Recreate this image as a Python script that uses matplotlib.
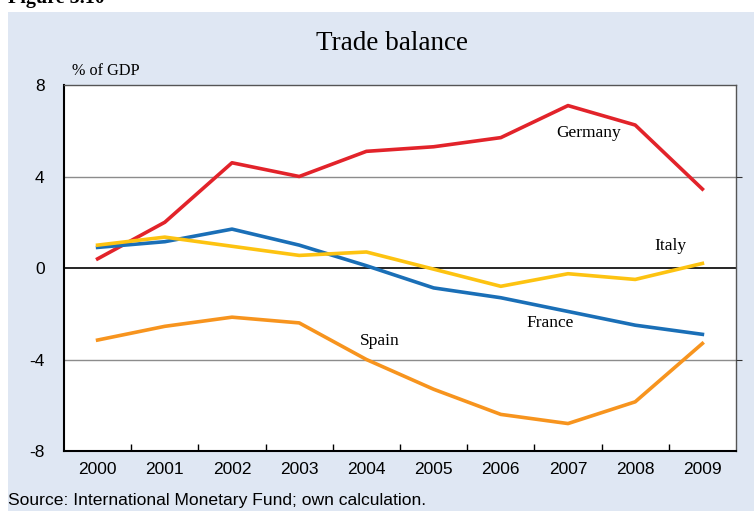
import matplotlib
matplotlib.use("Agg")
import matplotlib.pyplot as plt
from matplotlib.patches import Rectangle
import numpy as np

years = ["2000", "2001", "2002", "2003", "2004", "2005", "2006", "2007", "2008", "2009"]
germany = [0.4, 2.0, 4.6, 4.0, 5.1, 5.3, 5.7, 7.1, 6.25, 3.45]
france = [0.9, 1.15, 1.7, 1.0, 0.1, -0.87, -1.3, -1.9, -2.5, -2.9]
italy = [1.0, 1.35, 0.95, 0.55, 0.7, -0.05, -0.8, -0.25, -0.5, 0.2]
spain = [-3.15, -2.55, -2.15, -2.4, -4.0, -5.3, -6.4, -6.8, -5.85, -3.3]
yticks = [-8, -4, 0, 4, 8]

W, H = 754, 511
fig = plt.figure(figsize=(W / 100, H / 100), dpi=100)
fig.patch.set_facecolor("white")
fig.add_artist(Rectangle((8 / W, 0), 1 - 8 / W, (H - 12) / H, transform=fig.transFigure,
                         facecolor="#dfe7f3", edgecolor="none", zorder=0))
fig.text(8 / W, 1 - 3 / H, "Figure 5.10", family="Liberation Serif", weight="bold",
         fontsize=14.5, ha="left", va="baseline")

ax = fig.add_axes([64 / W, (H - 451) / H, (736 - 64) / W, (451 - 85) / H])
ax.set_facecolor("white")
x = np.arange(len(years)) + 0.5
ax.set_xlim(0, len(years))
ax.set_ylim(-8, 8)

for yv in (-4, 4):
    ax.axhline(yv, color="#8c8c8c", lw=1.0, zorder=1)
ax.axhline(0, color="black", lw=1.2, zorder=1)

lw = 2.6
ax.plot(x, germany, color="#e2232a", lw=lw, zorder=3)
ax.plot(x, spain, color="#f7941e", lw=lw, zorder=3)
ax.plot(x, france, color="#1a6fb7", lw=lw, zorder=3)
ax.plot(x, italy, color="#fdc311", lw=lw, zorder=4)

ax.set_yticks(yticks)
ax.set_yticklabels([str(v) for v in yticks], family="Liberation Sans", fontsize=12.5)
ax.tick_params(axis="y", length=0, pad=14)
ax.set_xticks(np.arange(1, len(years)))
ax.set_xticklabels([])
ax.set_xticks(x, minor=True)
ax.set_xticklabels(years, minor=True, family="Liberation Sans", fontsize=12.5)
ax.tick_params(axis="x", which="major", direction="in", length=5, width=1)
ax.tick_params(axis="x", which="minor", length=0, pad=8)

for s in ("left", "bottom"):
    ax.spines[s].set_color("black")
    ax.spines[s].set_linewidth(1.5)
for s in ("top", "right"):
    ax.spines[s].set_color("#555555")
    ax.spines[s].set_linewidth(1.0)

ax2 = ax.twinx()
ax2.set_ylim(-8, 8)
ax2.set_yticks([-4, 4])
ax2.set_yticklabels([])
ax2.tick_params(axis="y", length=4, direction="out", color="#333333")
for s in ax2.spines.values():
    s.set_visible(False)

serif = "Liberation Serif"
ax.text(7.8, 5.9, "Germany", family=serif, fontsize=12.5, ha="center", va="center", zorder=5)
ax.text(9.03, 0.96, "Italy", family=serif, fontsize=12.5, ha="center", va="center", zorder=5)
ax.text(7.23, -2.4, "France", family=serif, fontsize=12.5, ha="center", va="center", zorder=5)
ax.text(4.7, -3.19, "Spain", family=serif, fontsize=12.5, ha="center", va="center", zorder=5)

fig.text(392 / W, 1 - 43 / H, "Trade balance", family=serif, fontsize=19.5, ha="center", va="center")
fig.text(106 / W, 1 - 71 / H, "% of GDP", family=serif, fontsize=11.7, ha="center", va="center")
fig.text(8 / W, 1 - 500 / H, "Source: International Monetary Fund; own calculation.",
         family="Liberation Sans", fontsize=12.6, ha="left", va="center")

fig.savefig("out.png", dpi=100, facecolor=fig.get_facecolor())
